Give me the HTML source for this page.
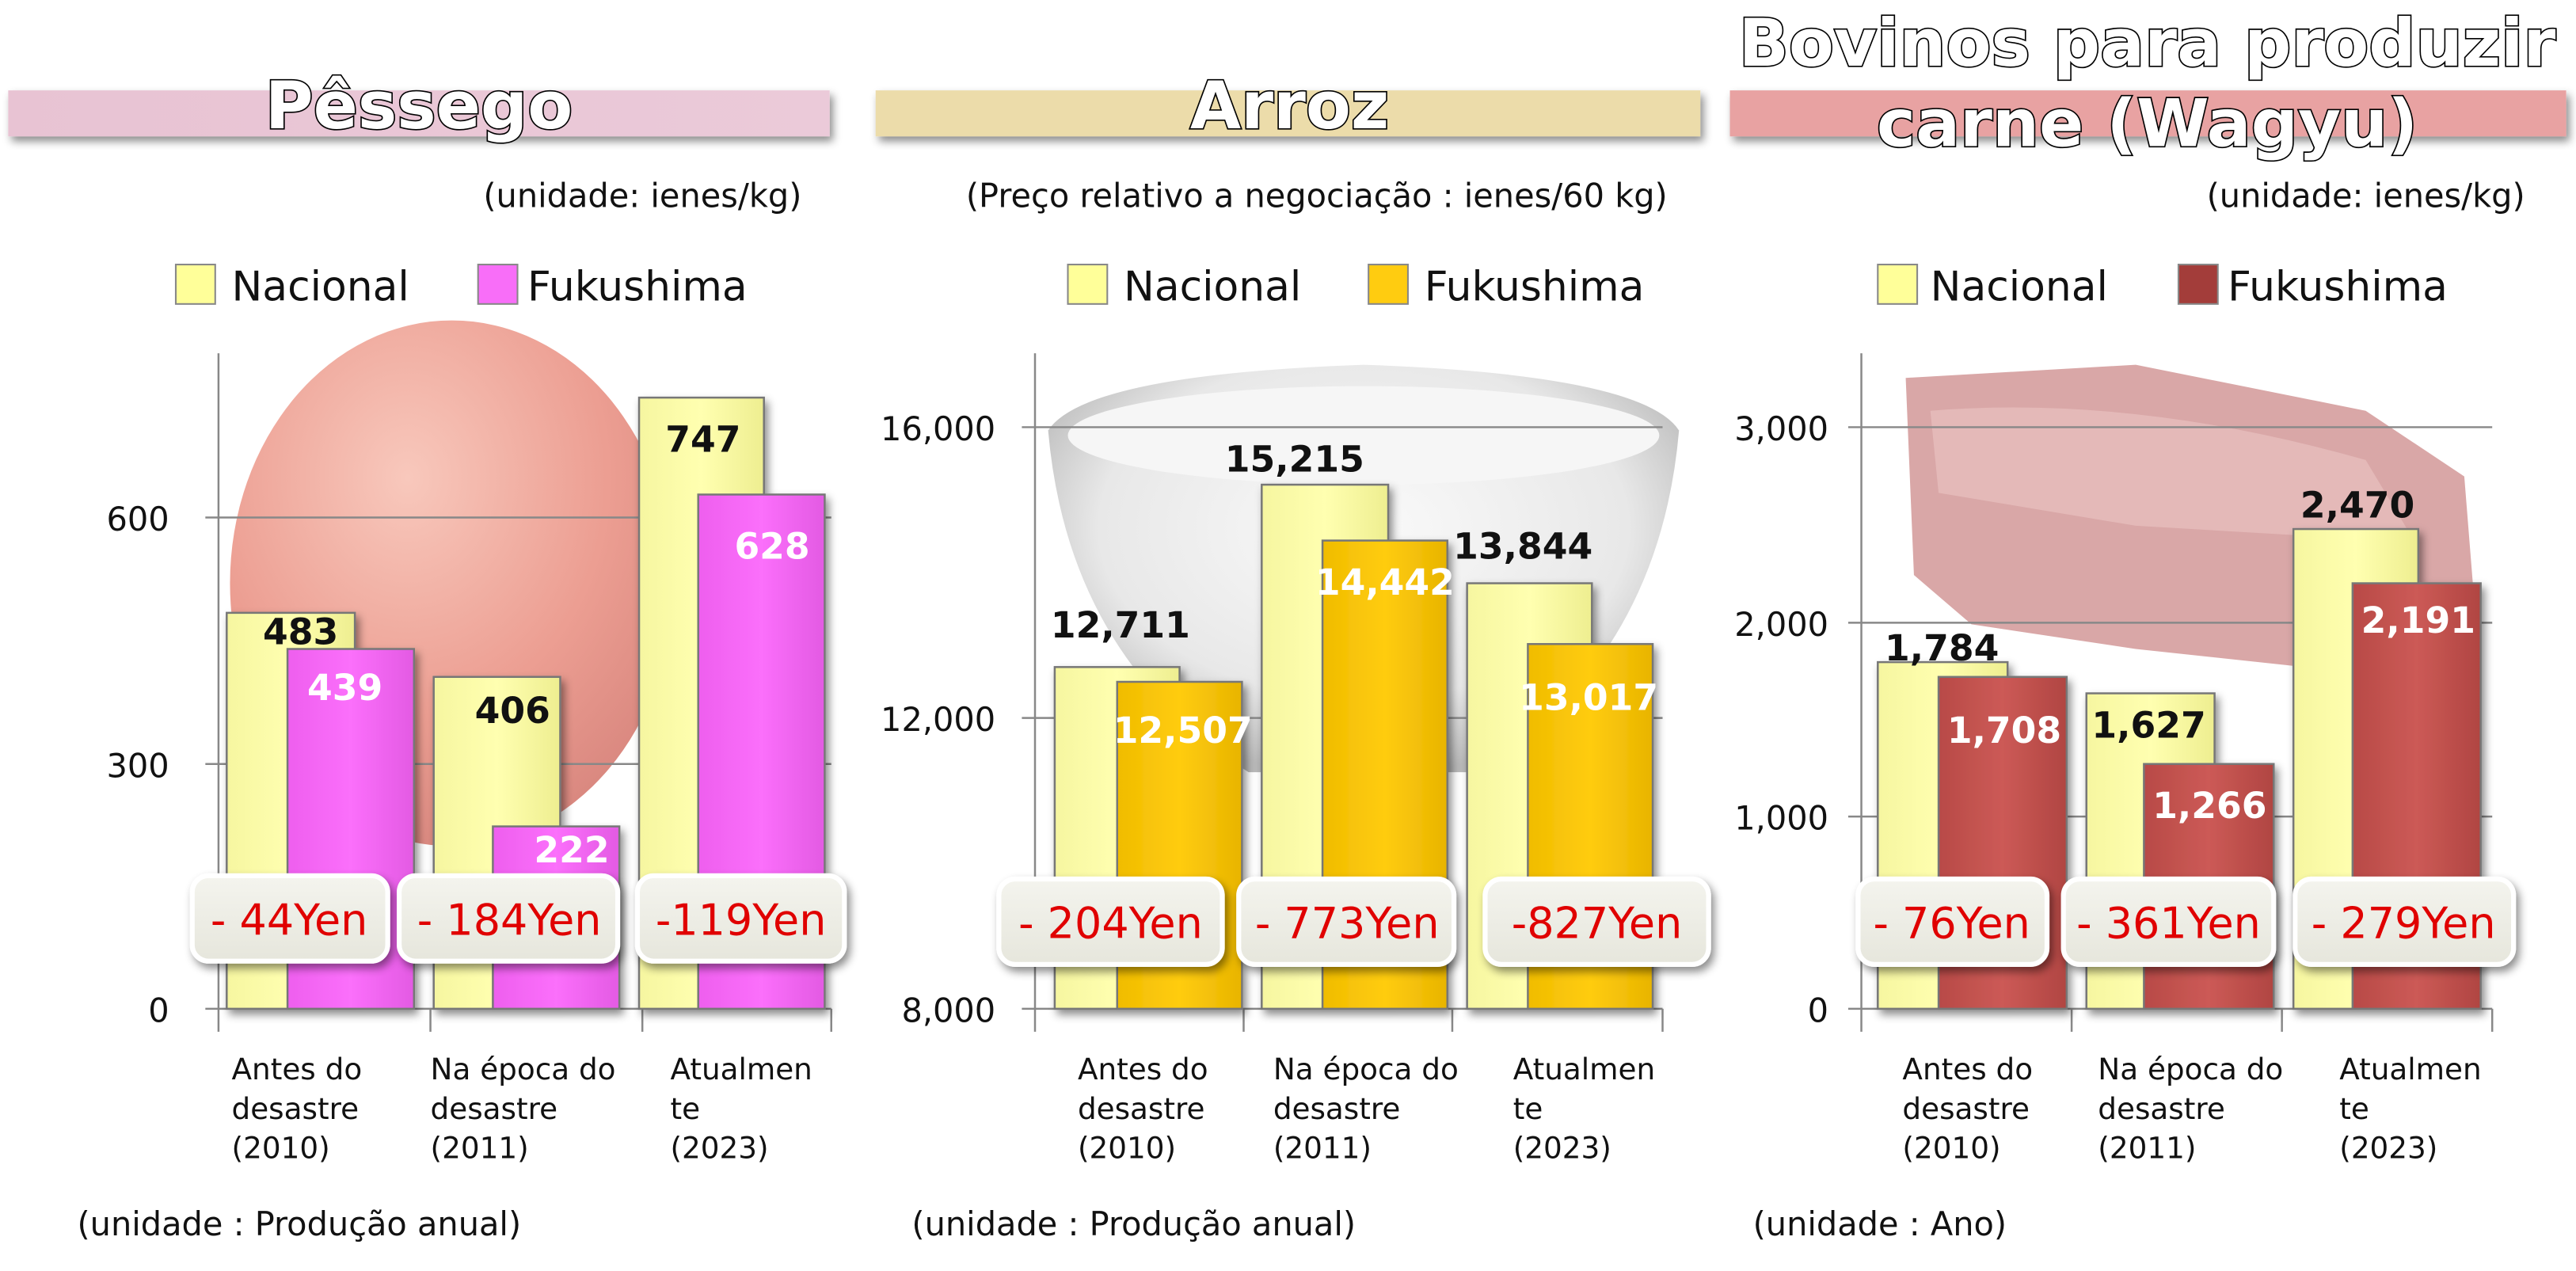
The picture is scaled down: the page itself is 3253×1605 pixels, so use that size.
<!DOCTYPE html>
<html><head><meta charset="utf-8"><style>
html,body{margin:0;padding:0;background:#fff;}
svg{display:block;}
text{font-family:"DejaVu Sans","Liberation Sans",sans-serif;}
.t{font-size:40px;font-weight:bold;fill:#fff;stroke:#000;stroke-width:1.6px;paint-order:stroke;}
.u{font-size:20px;fill:#111;}
.lg{font-size:25px;fill:#111;}
.tk{font-size:20px;fill:#111;text-anchor:end;}
.cat{font-size:18px;fill:#111;}
.vb{font-size:22px;font-weight:bold;fill:#111;text-anchor:middle;}
.vw{font-size:22px;font-weight:bold;fill:#fff;text-anchor:middle;}
.d{font-size:26px;fill:#e00000;text-anchor:middle;}
</style></head><body>
<svg width="3253" height="1605" viewBox="0 0 1568 773.6" xmlns="http://www.w3.org/2000/svg">
<defs>
<linearGradient id="gy" x1="0" x2="1"><stop offset="0" stop-color="#f6f6a0"/><stop offset=".5" stop-color="#ffffb0"/><stop offset="1" stop-color="#eeee90"/></linearGradient>
<linearGradient id="gm" x1="0" x2="1"><stop offset="0" stop-color="#ee5fee"/><stop offset=".5" stop-color="#fb6ffb"/><stop offset="1" stop-color="#e35ae3"/></linearGradient>
<linearGradient id="go" x1="0" x2="1"><stop offset="0" stop-color="#f0bc00"/><stop offset=".5" stop-color="#ffcc10"/><stop offset="1" stop-color="#e8b400"/></linearGradient>
<linearGradient id="gr" x1="0" x2="1"><stop offset="0" stop-color="#b84a47"/><stop offset=".5" stop-color="#cc5a56"/><stop offset="1" stop-color="#b04542"/></linearGradient>
<linearGradient id="b1" x1="0" x2="1"><stop offset="0" stop-color="#e8c3d3"/><stop offset="1" stop-color="#ebcad9"/></linearGradient>
<radialGradient id="peach" cx=".4" cy=".3" r=".75"><stop offset="0" stop-color="#f8c8bc"/><stop offset=".6" stop-color="#ec9e92"/><stop offset="1" stop-color="#d8867e"/></radialGradient>
<radialGradient id="bowl" cx=".5" cy=".4" r=".6"><stop offset="0" stop-color="#fafafa"/><stop offset=".7" stop-color="#e8e8e8"/><stop offset="1" stop-color="#b8b8b8"/></radialGradient>
<linearGradient id="box" x1="0" y1="0" x2="0" y2="1"><stop offset="0" stop-color="#f4f4ee"/><stop offset="1" stop-color="#e6e6dc"/></linearGradient>
<filter id="sh" x="-10%" y="-10%" width="130%" height="140%"><feDropShadow dx="2" dy="3" stdDeviation="2.5" flood-opacity=".45"/></filter>
</defs>

<!-- ========== PANEL 1 ========== -->
<rect x="5" y="55" width="500" height="28" fill="url(#b1)" filter="url(#sh)"/>
<text class="t" x="255" y="78" text-anchor="middle">Pêssego</text>
<text class="u" x="488" y="126" text-anchor="end">(unidade: ienes/kg)</text>
<rect x="107" y="161" width="24" height="24" fill="#ffff99" stroke="#888"/>
<text class="lg" x="141" y="183">Nacional</text>
<rect x="291" y="161" width="24" height="24" fill="#f86ef8" stroke="#888"/>
<text class="lg" x="321" y="183">Fukushima</text>
<ellipse cx="275" cy="355" rx="135" ry="160" fill="url(#peach)"/>
<g stroke="#888" stroke-width="1.2">
<line x1="125" y1="315" x2="506" y2="315"/><line x1="125" y1="465" x2="506" y2="465"/><line x1="125" y1="614" x2="506" y2="614"/>
<line x1="133" y1="215" x2="133" y2="628"/><line x1="262" y1="614" x2="262" y2="628"/><line x1="391" y1="614" x2="391" y2="628"/><line x1="506" y1="614" x2="506" y2="628"/>
</g>
<text class="tk" x="103" y="323">600</text><text class="tk" x="103" y="473">300</text><text class="tk" x="103" y="622">0</text>
<g stroke="#777" stroke-width="1.2" filter="url(#sh)">
<rect x="138" y="373" width="78" height="241" fill="url(#gy)"/><rect x="175" y="395" width="77" height="219" fill="url(#gm)"/>
<rect x="264" y="412" width="77" height="202" fill="url(#gy)"/><rect x="300" y="503" width="77" height="111" fill="url(#gm)"/>
<rect x="389" y="242" width="76" height="372" fill="url(#gy)"/><rect x="425" y="301" width="77" height="313" fill="url(#gm)"/>
</g>
<text class="vb" x="183" y="392">483</text><text class="vw" x="210" y="426">439</text>
<text class="vb" x="312" y="440">406</text><text class="vw" x="348" y="525">222</text>
<text class="vb" x="428" y="275">747</text><text class="vw" x="470" y="340">628</text>
<g fill="url(#box)" stroke="#fff" stroke-width="3" filter="url(#sh)">
<rect x="117" y="533" width="119" height="52" rx="10"/><rect x="243" y="533" width="133" height="52" rx="10"/><rect x="388" y="533" width="126" height="52" rx="10"/>
</g>
<text class="d" x="176" y="569">- 44Yen</text><text class="d" x="310" y="569">- 184Yen</text><text class="d" x="451" y="569">-119Yen</text>
<text class="cat" x="141" y="657">Antes do</text><text class="cat" x="141" y="681">desastre</text><text class="cat" x="141" y="705">(2010)</text>
<text class="cat" x="262" y="657">Na época do</text><text class="cat" x="262" y="681">desastre</text><text class="cat" x="262" y="705">(2011)</text>
<text class="cat" x="408" y="657">Atualmen</text><text class="cat" x="408" y="681">te</text><text class="cat" x="408" y="705">(2023)</text>
<text class="u" x="47" y="752">(unidade : Produção anual)</text>

<!-- ========== PANEL 2 ========== -->
<rect x="533" y="55" width="502" height="28" fill="#ecdcaa" filter="url(#sh)"/>
<text class="t" x="785" y="78" text-anchor="middle">Arroz</text>
<text class="u" x="1015" y="126" text-anchor="end">(Preço relativo a negociação : ienes/60 kg)</text>
<rect x="650" y="161" width="24" height="24" fill="#ffff99" stroke="#888"/>
<text class="lg" x="684" y="183">Nacional</text>
<rect x="833" y="161" width="24" height="24" fill="#ffcc10" stroke="#888"/>
<text class="lg" x="867" y="183">Fukushima</text>
<path d="M638 262 Q660 228 830 222 Q1000 228 1022 262 Q1010 400 900 470 L760 470 Q650 400 638 262 Z" fill="url(#bowl)"/>
<ellipse cx="830" cy="265" rx="180" ry="30" fill="#f6f6f6"/>
<g stroke="#888" stroke-width="1.2">
<line x1="622" y1="260" x2="1012" y2="260"/><line x1="622" y1="437" x2="1012" y2="437"/><line x1="622" y1="614" x2="1012" y2="614"/>
<line x1="630" y1="215" x2="630" y2="628"/><line x1="757" y1="614" x2="757" y2="628"/><line x1="884" y1="614" x2="884" y2="628"/><line x1="1012" y1="614" x2="1012" y2="628"/>
</g>
<text class="tk" x="606" y="268">16,000</text><text class="tk" x="606" y="445">12,000</text><text class="tk" x="606" y="622">8,000</text>
<g stroke="#777" stroke-width="1.2" filter="url(#sh)">
<rect x="642" y="406" width="76" height="208" fill="url(#gy)"/><rect x="680" y="415" width="76" height="199" fill="url(#go)"/>
<rect x="768" y="295" width="77" height="319" fill="url(#gy)"/><rect x="805" y="329" width="76" height="285" fill="url(#go)"/>
<rect x="893" y="355" width="76" height="259" fill="url(#gy)"/><rect x="930" y="392" width="76" height="222" fill="url(#go)"/>
</g>
<text class="vb" x="682" y="388">12,711</text><text class="vw" x="720" y="452">12,507</text>
<text class="vb" x="788" y="287">15,215</text><text class="vw" x="843" y="362">14,442</text>
<text class="vb" x="927" y="340">13,844</text><text class="vw" x="967" y="432">13,017</text>
<g fill="url(#box)" stroke="#fff" stroke-width="3" filter="url(#sh)">
<rect x="608" y="535" width="136" height="52" rx="10"/><rect x="754" y="535" width="131" height="52" rx="10"/><rect x="904" y="535" width="136" height="52" rx="10"/>
</g>
<text class="d" x="676" y="571">- 204Yen</text><text class="d" x="820" y="571">- 773Yen</text><text class="d" x="972" y="571">-827Yen</text>
<text class="cat" x="656" y="657">Antes do</text><text class="cat" x="656" y="681">desastre</text><text class="cat" x="656" y="705">(2010)</text>
<text class="cat" x="775" y="657">Na época do</text><text class="cat" x="775" y="681">desastre</text><text class="cat" x="775" y="705">(2011)</text>
<text class="cat" x="921" y="657">Atualmen</text><text class="cat" x="921" y="681">te</text><text class="cat" x="921" y="705">(2023)</text>
<text class="u" x="555" y="752">(unidade : Produção anual)</text>

<!-- ========== PANEL 3 ========== -->
<rect x="1053" y="55" width="509" height="28" fill="#e8a2a2" filter="url(#sh)"/>
<text class="t" x="1307" y="40" text-anchor="middle">Bovinos para produzir</text>
<text class="t" x="1307" y="89" text-anchor="middle">carne (Wagyu)</text>
<text class="u" x="1537" y="126" text-anchor="end">(unidade: ienes/kg)</text>
<rect x="1143" y="161" width="24" height="24" fill="#ffff99" stroke="#888"/>
<text class="lg" x="1175" y="183">Nacional</text>
<rect x="1326" y="161" width="24" height="24" fill="#a33d3a" stroke="#888"/>
<text class="lg" x="1356" y="183">Fukushima</text>
<path d="M1160 230 L1300 222 L1440 250 L1500 290 L1510 415 L1440 410 L1300 395 L1200 380 L1165 350 Z" fill="#d9a7a7"/>
<path d="M1175 250 Q1300 240 1440 280 L1470 330 L1300 320 L1180 300 Z" fill="#e8c0bf" opacity=".7"/>
<g stroke="#888" stroke-width="1.2">
<line x1="1125" y1="260" x2="1517" y2="260"/><line x1="1125" y1="379" x2="1517" y2="379"/><line x1="1125" y1="497" x2="1517" y2="497"/><line x1="1125" y1="614" x2="1517" y2="614"/>
<line x1="1133" y1="215" x2="1133" y2="628"/><line x1="1261" y1="614" x2="1261" y2="628"/><line x1="1389" y1="614" x2="1389" y2="628"/><line x1="1517" y1="614" x2="1517" y2="628"/>
</g>
<text class="tk" x="1113" y="268">3,000</text><text class="tk" x="1113" y="387">2,000</text><text class="tk" x="1113" y="505">1,000</text><text class="tk" x="1113" y="622">0</text>
<g stroke="#777" stroke-width="1.2" filter="url(#sh)">
<rect x="1143" y="403" width="79" height="211" fill="url(#gy)"/><rect x="1180" y="412" width="78" height="202" fill="url(#gr)"/>
<rect x="1270" y="422" width="78" height="192" fill="url(#gy)"/><rect x="1305" y="465" width="79" height="149" fill="url(#gr)"/>
<rect x="1396" y="322" width="76" height="292" fill="url(#gy)"/><rect x="1432" y="355" width="78" height="259" fill="url(#gr)"/>
</g>
<text class="vb" x="1182" y="402">1,784</text><text class="vw" x="1220" y="452">1,708</text>
<text class="vb" x="1308" y="449">1,627</text><text class="vw" x="1345" y="498">1,266</text>
<text class="vb" x="1435" y="315">2,470</text><text class="vw" x="1472" y="385">2,191</text>
<g fill="url(#box)" stroke="#fff" stroke-width="3" filter="url(#sh)">
<rect x="1131" y="535" width="115" height="52" rx="10"/><rect x="1256" y="535" width="128" height="52" rx="10"/><rect x="1397" y="535" width="133" height="52" rx="10"/>
</g>
<text class="d" x="1188" y="571">- 76Yen</text><text class="d" x="1320" y="571">- 361Yen</text><text class="d" x="1463" y="571">- 279Yen</text>
<text class="cat" x="1158" y="657">Antes do</text><text class="cat" x="1158" y="681">desastre</text><text class="cat" x="1158" y="705">(2010)</text>
<text class="cat" x="1277" y="657">Na época do</text><text class="cat" x="1277" y="681">desastre</text><text class="cat" x="1277" y="705">(2011)</text>
<text class="cat" x="1424" y="657">Atualmen</text><text class="cat" x="1424" y="681">te</text><text class="cat" x="1424" y="705">(2023)</text>
<text class="u" x="1067" y="752">(unidade : Ano)</text>
</svg>
</body></html>
